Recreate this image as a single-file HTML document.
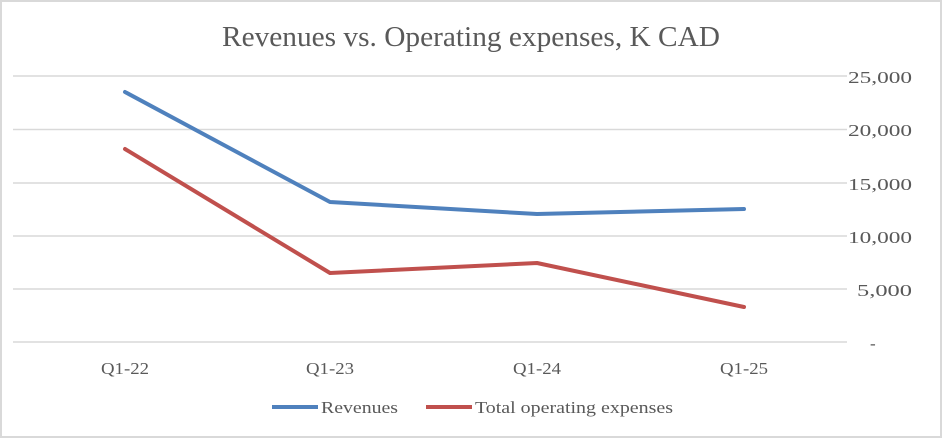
<!DOCTYPE html>
<html><head><meta charset="utf-8"><style>
html,body{margin:0;padding:0;background:#fff;}
</style></head><body>
<svg width="942" height="438" xmlns="http://www.w3.org/2000/svg" font-family="'Liberation Serif', serif" fill="#595959">
<rect x="1" y="1" width="940" height="436" fill="#fff" stroke="#d9d9d9" stroke-width="2"/>
<text x="222" y="46" font-size="28" textLength="498" lengthAdjust="spacingAndGlyphs">Revenues vs. Operating expenses, K CAD</text>
<g stroke="#d9d9d9" stroke-width="1.5">
<line x1="13" x2="847" y1="76" y2="76"/>
<line x1="13" x2="847" y1="129.5" y2="129.5"/>
<line x1="13" x2="847" y1="183" y2="183"/>
<line x1="13" x2="847" y1="236" y2="236"/>
<line x1="13" x2="847" y1="289" y2="289"/>
<line x1="13" x2="847" y1="342" y2="342"/>
</g>
<g font-size="17">
<text x="848" y="83" textLength="64" lengthAdjust="spacingAndGlyphs">25,000</text>
<text x="848" y="136" textLength="64" lengthAdjust="spacingAndGlyphs">20,000</text>
<text x="848" y="190" textLength="64" lengthAdjust="spacingAndGlyphs">15,000</text>
<text x="848" y="243" textLength="64" lengthAdjust="spacingAndGlyphs">10,000</text>
<text x="857" y="296" textLength="55" lengthAdjust="spacingAndGlyphs">5,000</text>
<text x="870" y="349">-</text>
</g>
<g font-size="17">
<text x="101" y="374" textLength="48" lengthAdjust="spacingAndGlyphs">Q1-22</text>
<text x="306" y="374" textLength="48" lengthAdjust="spacingAndGlyphs">Q1-23</text>
<text x="513" y="374" textLength="48" lengthAdjust="spacingAndGlyphs">Q1-24</text>
<text x="720" y="374" textLength="48" lengthAdjust="spacingAndGlyphs">Q1-25</text>
</g>
<polyline points="125,92 330,202 537,214 744,209" fill="none" stroke="#4f81bd" stroke-width="4" stroke-linecap="round" stroke-linejoin="round"/>
<polyline points="125,149 330,273 537,263 744,307" fill="none" stroke="#c0504d" stroke-width="4" stroke-linecap="round" stroke-linejoin="round"/>
<line x1="272" x2="318" y1="407" y2="407" stroke="#4f81bd" stroke-width="4"/>
<text x="321" y="413" font-size="17" textLength="77" lengthAdjust="spacingAndGlyphs">Revenues</text>
<line x1="426" x2="472" y1="407" y2="407" stroke="#c0504d" stroke-width="4"/>
<text x="475" y="413" font-size="17" textLength="198" lengthAdjust="spacingAndGlyphs">Total operating expenses</text>
</svg>
</body></html>
